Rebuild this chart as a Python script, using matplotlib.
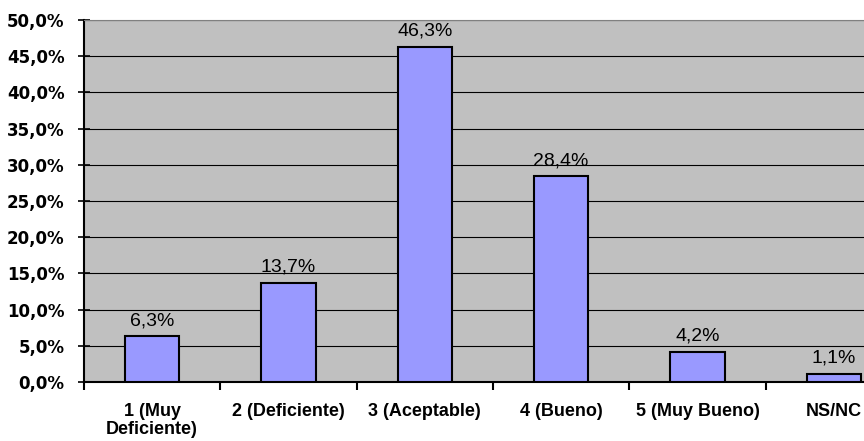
import matplotlib
matplotlib.use("Agg")
import matplotlib.pyplot as plt
from matplotlib.ticker import FuncFormatter, FixedLocator
import numpy as np

# data
categorias = ["1 (Muy\nDeficiente)", "2 (Deficiente)", "3 (Aceptable)",
              "4 (Bueno)", "5 (Muy Bueno)", "NS/NC"]
porcentajes = [6.3, 13.7, 46.3, 28.4, 4.2, 1.1]
etiquetas = ["6,3%", "13,7%", "46,3%", "28,4%", "4,2%", "1,1%"]
y_ticks = [0, 5, 10, 15, 20, 25, 30, 35, 40, 45, 50]

plt.rcParams['font.family'] = ['Liberation Sans', 'DejaVu Sans']

fig = plt.figure(figsize=(8.64, 4.41), dpi=100)
# plot area runs past the right edge, like the cropped original
ax = fig.add_axes([84/864, 59/441, 818/864, 362/441])
ax.set_facecolor("#C0C0C0")

x = np.arange(len(categorias)) + 0.5
ax.bar(x, porcentajes, width=0.4, color="#9999FF", edgecolor="black",
       linewidth=1.5, zorder=3)

for xi, v, t in zip(x, porcentajes, etiquetas):
    ax.text(xi, v + 1.0, t, ha="center", va="bottom", fontsize=14, zorder=4)

ax.set_xlim(0, 6)
ax.set_ylim(0, 50)

# y axis
ax.set_yticks(y_ticks)
ax.yaxis.set_major_formatter(FuncFormatter(lambda v, p: f"{v:.1f}%".replace(".", ",")))
ax.tick_params(axis="y", direction="inout", length=8, width=1.2, pad=10)
for lab in ax.get_yticklabels():
    lab.set_fontweight("bold")
    lab.set_fontfamily("DejaVu Sans")
    lab.set_fontsize(12)
ax.yaxis.grid(True, color="black", linewidth=0.8, zorder=1)
ax.set_axisbelow(True)

# x axis: marks at category edges, labels at centers
ax.xaxis.set_major_locator(FixedLocator(x))
ax.set_xticklabels(categorias, fontsize=13, fontweight="bold", linespacing=1.1)
ax.xaxis.set_minor_locator(FixedLocator(np.arange(0, 7)))
ax.tick_params(axis="x", which="major", length=0, pad=15)
ax.tick_params(axis="x", which="minor", direction="out", length=6, width=1.5)

ax.spines["left"].set_color("black")
ax.spines["left"].set_linewidth(1.5)
ax.spines["bottom"].set_color("black")
ax.spines["bottom"].set_linewidth(1.5)
ax.spines["top"].set_color("#808080")
ax.spines["right"].set_visible(False)

fig.savefig("out.png", dpi=100)
